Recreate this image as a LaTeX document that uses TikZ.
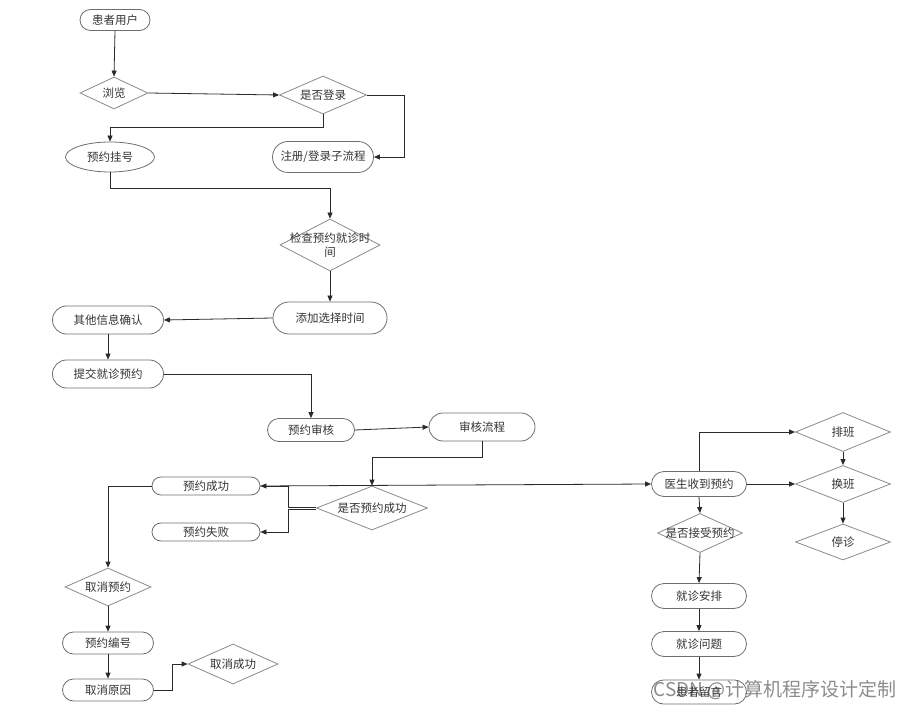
\documentclass[tikz,border=0pt]{standalone}
\usepackage{fontspec}
\setmainfont{Noto Sans CJK SC}
\usetikzlibrary{arrows.meta,shapes.geometric,shapes.misc}
\definecolor{txt}{HTML}{333333}
\definecolor{bord}{HTML}{6E6E6E}
\definecolor{dbord}{HTML}{8A8A8A}
\definecolor{ln}{HTML}{2A2A2A}
\definecolor{wmc}{HTML}{8C8C8C}
\begin{document}
\begin{tikzpicture}[x=1pt,y=-1pt,
  every node/.style={font=\fontsize{11.5}{14}\selectfont, text=txt},
  stad/.style={rounded rectangle, draw=bord, line width=0.8pt, inner sep=0pt},
  ell/.style={ellipse, draw=bord, line width=0.8pt, inner sep=0pt},
  dia/.style={diamond, draw=dbord, line width=0.8pt, inner sep=0pt},
  arr/.style={draw=ln, line width=0.8pt, -{Triangle[length=6pt,width=5pt]}},
  ln/.style={draw=ln, line width=0.8pt}]
\useasboundingbox (0,0) rectangle (910,708);

% watermark (behind the drawing)
\node[anchor=east, font=\fontsize{19}{22}\selectfont, text=wmc, inner sep=0pt] (wm) at (897,690) {CSDN @计算机程序设计定制};

% nodes
\node[stad, minimum width=70pt, minimum height=21pt] (u) at (115,20) {患者用户};
\node[dia, minimum width=68pt, minimum height=32pt, label=center:浏览] (b) at (114,93) {};
\node[dia, minimum width=87pt, minimum height=38pt, label=center:是否登录] (l) at (323,95) {};
\node[ell, minimum width=89pt, minimum height=30pt] (g) at (110,157) {预约挂号};
\node[stad, minimum width=101pt, minimum height=31pt] (r) at (323,157) {注册/登录子流程};
\node[dia, minimum width=100pt, minimum height=52pt, label={[align=center]center:检查预约就诊时\\间}] (c) at (330,245) {};
\node[stad, minimum width=114pt, minimum height=32pt] (t) at (330,318) {添加选择时间};
\node[stad, minimum width=111pt, minimum height=28pt] (o) at (108,320) {其他信息确认};
\node[stad, minimum width=111pt, minimum height=28pt] (s) at (108,374) {提交就诊预约};
\node[stad, minimum width=87pt, minimum height=23pt] (a) at (311,430) {预约审核};
\node[stad, minimum width=106pt, minimum height=28pt] (p) at (482,427) {审核流程};
\node[dia, minimum width=111pt, minimum height=44pt, label=center:是否预约成功] (d) at (372,508) {};
\node[stad, minimum width=108pt, minimum height=18pt] (ok) at (206,486) {预约成功};
\node[stad, minimum width=108pt, minimum height=18pt] (fail) at (206,532) {预约失败};
\node[dia, minimum width=86pt, minimum height=38pt, label=center:取消预约] (q) at (108,587) {};
\node[stad, minimum width=91pt, minimum height=22pt] (n) at (108,643) {预约编号};
\node[stad, minimum width=91pt, minimum height=22pt] (why) at (108,690) {取消原因};
\node[dia, minimum width=90pt, minimum height=40pt, label=center:取消成功] (cs) at (233,664) {};

\node[stad, minimum width=95pt, minimum height=25pt] (dr) at (699,484) {医生收到预约};
\node[dia, minimum width=95pt, minimum height=39pt, label=center:排班] (pb) at (843,432) {};
\node[dia, minimum width=95pt, minimum height=37pt, label=center:换班] (hb) at (843,484) {};
\node[dia, minimum width=95pt, minimum height=36pt, label=center:停诊] (tz) at (843,542) {};
\node[dia, minimum width=85pt, minimum height=39pt, label=center:是否接受预约] (acc) at (700,533) {};
\node[stad, minimum width=95pt, minimum height=25pt] (ap) at (699,596) {就诊安排};
\node[stad, minimum width=95pt, minimum height=25pt] (qs) at (699,644) {就诊问题};
\node[stad, minimum width=95pt, minimum height=24pt] (ly) at (699,692) {患者留言};

% connectors
\draw[arr] (u.south) -- (b.north);
\draw[arr] (b.east) -- (l.west);
\draw[arr] (l.east) -- ++(37,0) |- (r.east);
\draw[arr] (l.south) -- ++(0,13) -| (g.north);
\draw[arr] (g.south) -- ++(0,16) -| (c.north);
\draw[arr] (c.south) -- (t.north);
\draw[arr] (t.west) -- (o.east);
\draw[arr] (o.south) -- (s.north);
\draw[arr] (s.east) -| (a.north);
\draw[arr] (a.east) -- (p.west);
\draw[arr] (p.south) -- ++(0,16) -| (d.north);
\draw[arr] ([yshift=1pt]d.west) -- ++(-28,0) |- (ok.east);
\draw[arr] ([yshift=-1pt]d.west) -- ++(-28,0) |- (fail.east);
\draw[arr] (ok.east) -- (dr.west);
\draw[arr] (ok.west) -| (q.north);
\draw[arr] (q.south) -- (n.north);
\draw[arr] (n.south) -- (why.north);
\draw[arr] (why.east) -- ++(18,0) |- (cs.west);
\draw[arr] (dr.north) |- (pb.west);
\draw[arr] (dr.east) -- (hb.west);
\draw[arr] (pb.south) -- (hb.north);
\draw[arr] (hb.south) -- (tz.north);
\draw[arr] (dr.south) -- (acc.north);
\draw[arr] (acc.south) -- (ap.north);
\draw[arr] (ap.south) -- (qs.north);
\draw[arr] (qs.south) -- (ly.north);
\end{tikzpicture}
\end{document}
